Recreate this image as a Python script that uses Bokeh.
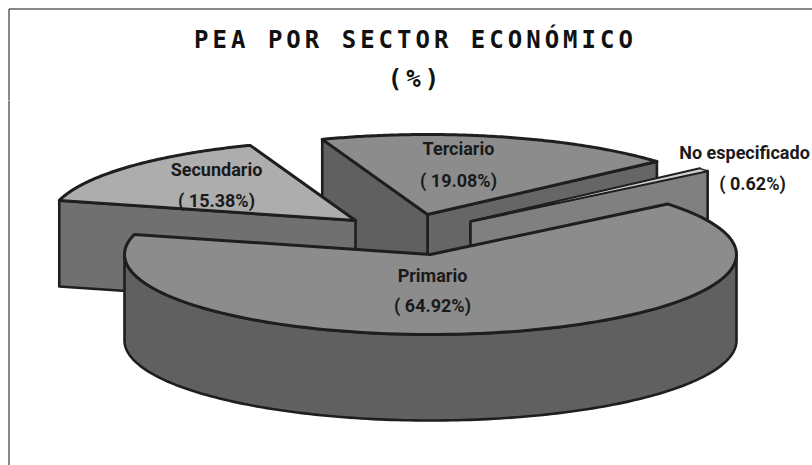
import numpy as np
from bokeh.embed import file_html
from bokeh.resources import INLINE
from bokeh.plotting import figure
from bokeh.layouts import column
from bokeh.models import Range1d
from bokeh.core.properties import value

# ---- chart data
title_lines = ["PEA POR SECTOR ECONÓMICO", "(%)"]
categories = ["Primario", "Secundario", "Terciario", "No especificado"]
shares = [64.92, 15.38, 19.08, 0.62]

# ---- layout of the 3D pie (pixels of the 812x465 picture)
CX, CY, RX, RY, DEPTH = 430.0, 254.0, 306.0, 80.0, 86.0
START_DEG = 39.2
explode = {"Primario": (0, 0), "Secundario": (-75, -34),
           "Terciario": (-3, -40), "No especificado": (40, -33)}
label_pos = {"Primario": (432, 432, 275, 305), "Secundario": (216, 216, 169, 200),
             "Terciario": (458, 458, 148, 180), "No especificado": (744, 752, 152, 183)}
INK = "#1e1e1e"
TITLE_SPACING = 4.0
W, H, TOP = 812, 465, 100

# angular extent of each slice, clockwise from the start angle
ends = START_DEG - np.cumsum(np.array(shares) / 100.0 * 360.0)
starts = np.concatenate(([START_DEG], ends[:-1]))
ext = {c: (s, e) for c, s, e in zip(categories, starts, ends)}


def rim(cat, a):
    dx, dy = explode[cat]
    t = np.radians(a)
    return CX + dx + RX * np.cos(t), CY + dy - RY * np.sin(t)


def apex(cat):
    dx, dy = explode[cat]
    return CX + dx, CY + dy


# ---- title figure (its own letter spacing; centring ignores the spacing, hence the shift)
t = figure(width=W, height=TOP, x_range=Range1d(0, W), y_range=Range1d(TOP, 0),
           output_backend="svg", toolbar_location=None, min_border=0,
           outline_line_color=None, styles={"letter-spacing": f"{TITLE_SPACING}px"})
t.axis.visible = False
t.grid.visible = False
t.text(x=[415 - len(s) * TITLE_SPACING / 2 for s in title_lines], y=[39, 78], text=title_lines,
       text_align="center", text_baseline="middle", text_color="#111111",
       text_font=value("DejaVu Sans Mono"), text_font_style="bold", text_font_size="24px")
t.line([8.5, 8.5], [TOP + 5, 8.5], line_color="#111111", line_width=1)
t.line([8.5, W], [8.5, 8.5], line_color="#111111", line_width=1)

# ---- pie figure
p = figure(width=W, height=H - TOP, x_range=Range1d(0, W), y_range=Range1d(H, TOP),
           output_backend="svg", toolbar_location=None, min_border=0,
           outline_line_color=None)
p.axis.visible = False
p.grid.visible = False
p.line([8.5, 8.5], [H, TOP - 5], line_color="#111111", line_width=1)


def poly(xs, ys, fill, lw=2.6):
    p.patch(list(xs), list(ys), fill_color=fill, line_color=INK, line_width=lw, line_join="round")


def edge_wall(cat, a, fill, lw=2.6):
    ax, ay = apex(cat)
    rx, ry = rim(cat, a)
    poly([ax, rx, rx, ax], [ay, ry, ry + DEPTH, ay + DEPTH], fill, lw)


def top(cat, fill, lw=3.0):
    ax, ay = apex(cat)
    s, e = ext[cat]
    xs, ys = rim(cat, np.linspace(s, e, 120))
    poly(np.r_[ax, xs], np.r_[ay, ys], fill, lw)


# back to front
edge_wall("Terciario", ext["Terciario"][1], "#666666")
edge_wall("Terciario", ext["Terciario"][0], "#606060")
top("Terciario", "#8c8c8c")

edge_wall("No especificado", ext["No especificado"][0], "#808080")
edge_wall("No especificado", ext["No especificado"][1], "#808080")
top("No especificado", "#d0d0d0", 1.4)

edge_wall("Secundario", ext["Secundario"][0], "#707070")
top("Secundario", "#adadad")

arc = np.linspace(180, 360, 160)
ax_, ay_ = rim("Primario", arc)
poly(np.r_[ax_, ax_[::-1]], np.r_[ay_, ay_[::-1] + DEPTH], "#606060", 2.6)
top("Primario", "#8c8c8c")

# ---- labels
for cat, share in zip(categories, shares):
    x1, x2, y1, y2 = label_pos[cat]
    p.text(x=[x1, x2], y=[y1, y2], text=[cat, f"( {share:.2f}%)"], text_align="center",
           text_baseline="middle", text_color="#1a1a1a",
           text_font=value("Roboto"), text_font_style="bold",
           text_font_size="18px")

page = column(t, p, spacing=0)
open("out.html", "w").write(file_html(page, INLINE))
